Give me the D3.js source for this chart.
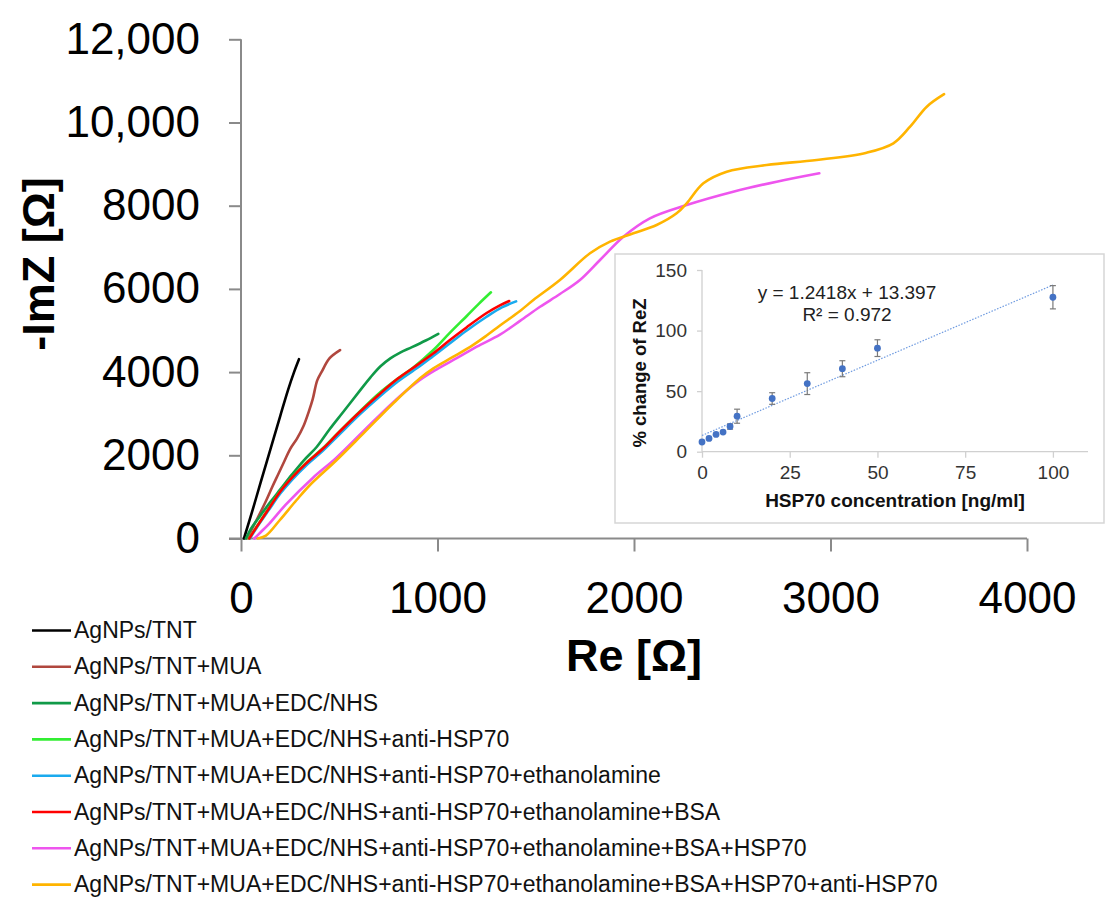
<!DOCTYPE html>
<html>
<head>
<meta charset="utf-8">
<script src="https://cdn.jsdelivr.net/npm/d3@7"></script>
<style>
  html, body { margin: 0; padding: 0; background: #fff; }
  svg { display: block; font-family: "Liberation Sans", Arial, sans-serif; }
</style>
</head>
<body>
<svg id="chart" width="1105" height="898"></svg>
<script>
// ---------- DATA ----------
const seriesNames = [
  "AgNPs/TNT",
  "AgNPs/TNT+MUA",
  "AgNPs/TNT+MUA+EDC/NHS",
  "AgNPs/TNT+MUA+EDC/NHS+anti-HSP70",
  "AgNPs/TNT+MUA+EDC/NHS+anti-HSP70+ethanolamine",
  "AgNPs/TNT+MUA+EDC/NHS+anti-HSP70+ethanolamine+BSA",
  "AgNPs/TNT+MUA+EDC/NHS+anti-HSP70+ethanolamine+BSA+HSP70",
  "AgNPs/TNT+MUA+EDC/NHS+anti-HSP70+ethanolamine+BSA+HSP70+anti-HSP70"
];
const seriesColors = ["#000000", "#b0473e", "#109a48", "#33ee33", "#1aaaee", "#ff0000", "#ee55ee", "#ffb400"];

// [Re, -ImZ] pairs (Ohm)
const sBlack = [[15,0],[60,700],[100,1350],[150,2150],[200,2950],[240,3580],[270,4000],[295,4310]];
const sBrown = [[30,0],[80,450],[127,900],[160,1250],[190,1550],[220,1850],[250,2150],[285,2400],[317,2690],[345,3050],[365,3350],[388,3800],[411,4010],[450,4330],[504,4530]];
const sDarkGreen = [[25,0],[50,230],[100,560],[150,880],[200,1180],[260,1540],[320,1880],[385,2200],[450,2620],[520,3040],[606,3560],[660,3880],[710,4140],[760,4330],[810,4470],[870,4600],[940,4760],[1004,4920]];
const sLightGreen = [[40,0],[80,290],[144,745],[200,1140],[263,1490],[330,1810],[419,2180],[500,2570],[606,3060],[700,3480],[800,3850],[877,4110],[979,4531],[1060,4930],[1149,5349],[1210,5640],[1272,5918]];
const sBlue = [[45,0],[80,260],[144,700],[200,1080],[263,1430],[330,1750],[419,2120],[500,2500],[606,2990],[700,3390],[800,3780],[900,4110],[979,4390],[1060,4680],[1149,5000],[1250,5330],[1330,5560],[1400,5700]];
const sRed = [[42,0],[80,280],[144,735],[200,1130],[263,1480],[330,1800],[419,2168],[500,2560],[606,3048],[700,3450],[800,3850],[900,4180],[979,4452],[1060,4760],[1149,5080],[1250,5420],[1320,5610],[1365,5709]];
const sMagenta = [[68,0],[100,150],[144,360],[229,820],[364,1450],[483,1930],[619,2560],[771,3260],[907,3800],[1000,4080],[1100,4340],[1200,4610],[1318,4900],[1420,5230],[1522,5570],[1623,5877],[1725,6214],[1827,6695],[1946,7255],[2081,7697],[2268,8017],[2505,8337],[2726,8577],[2943,8779]];
const sOrange = [[85,0],[127,70],[198,445],[283,925],[351,1286],[487,1887],[623,2528],[775,3250],[911,3851],[979,4091],[1081,4370],[1180,4650],[1250,4880],[1318,5120],[1420,5470],[1488,5733],[1623,6214],[1776,6856],[1878,7135],[1997,7336],[2115,7536],[2217,7817],[2268,8058],[2353,8538],[2472,8818],[2675,8978],[2930,9099],[3184,9275],[3320,9500],[3405,9899],[3490,10380],[3578,10680]];
const seriesData = [sBlack, sBrown, sDarkGreen, sLightGreen, sBlue, sRed, sMagenta, sOrange];

const xTicks = [0, 1000, 2000, 3000, 4000];
const yTicks = [0, 2000, 4000, 6000, 8000, 10000, 12000];

// Inset calibration data
const insetConc = [0, 2, 4, 6, 8, 10, 20, 30, 40, 50, 100];
const insetChange = [8.0, 11.0, 14.3, 16.2, 20.8, 29.3, 43.9, 56.2, 68.5, 85.5, 127.5];
const insetErr = [0, 0, 0, 0, 2.2, 5.8, 4.8, 9.0, 6.6, 6.9, 9.6];
const insetXTicks = [0, 25, 50, 75, 100];
const insetYTicks = [0, 50, 100, 150];
const fitSlope = 1.2418, fitIntercept = 13.397;

// ---------- DRAW ----------
const svg = d3.select("#chart");
const x = d3.scaleLinear().domain([0, 4000]).range([241, 1027]);
const y = d3.scaleLinear().domain([0, 12000]).range([538.5, 39.3]);
const axisColor = "#8a8a8a";

// Y axis
const gy = svg.append("g").attr("transform", "translate(241,0)")
  .call(d3.axisLeft(y).tickValues(yTicks).tickSize(12).tickPadding(29)
    .tickFormat(d => d >= 10000 ? d3.format(",")(d) : String(d)));
gy.select(".domain").attr("stroke", axisColor).attr("stroke-width", 2).attr("d", `M0,${y(12000)}V${y(0)}`);
gy.selectAll(".tick line").attr("stroke", axisColor).attr("stroke-width", 2);
gy.selectAll(".tick text").attr("font-size", 44).attr("fill", "#000");

// X axis
const gx = svg.append("g").attr("transform", `translate(0,${y(0)})`)
  .call(d3.axisBottom(x).tickValues(xTicks).tickSize(13).tickPadding(30).tickFormat(d => String(d)));
gx.select(".domain").attr("stroke", axisColor).attr("stroke-width", 2).attr("d", `M229,0H${x(4000)}`);
gx.selectAll(".tick line").attr("stroke", axisColor).attr("stroke-width", 2);
gx.selectAll(".tick text").attr("font-size", 44).attr("fill", "#000");

// Axis titles
svg.append("text").attr("transform", "translate(54,264) rotate(-90)")
  .attr("text-anchor", "middle").attr("font-size", 45).attr("font-weight", "bold").text("-ImZ [Ω]");
svg.append("text").attr("x", 634).attr("y", 671)
  .attr("text-anchor", "middle").attr("font-size", 45).attr("font-weight", "bold").text("Re [Ω]");

// Curves
const line = d3.line().x(d => x(d[0])).y(d => y(d[1])).curve(d3.curveCatmullRom.alpha(0.5));
const drawOrder = [0, 1, 2, 6, 7, 4, 3, 5];
drawOrder.forEach(i => {
  svg.append("path").attr("d", line(seriesData[i])).attr("fill", "none")
    .attr("stroke", seriesColors[i]).attr("stroke-width", 2.6).attr("stroke-linecap", "round");
});

// Inset
const inset = svg.append("g");
inset.append("rect").attr("x", 615).attr("y", 254).attr("width", 489).attr("height", 269)
  .attr("fill", "#fff").attr("stroke", "#d6d6d6").attr("stroke-width", 1.5);
const xi = d3.scaleLinear().domain([0, 110]).range([702, 1088]);
const yi = d3.scaleLinear().domain([0, 150]).range([451.7, 270]);
const insetAxisColor = "#d0d0d0";

const giy = inset.append("g").attr("transform", "translate(702,0)")
  .call(d3.axisLeft(yi).tickValues(insetYTicks).tickSize(5).tickPadding(10));
giy.select(".domain").attr("stroke", insetAxisColor).attr("stroke-width", 1.3).attr("d", `M0,${yi(150)}V${yi(0)}`);
giy.selectAll(".tick line").attr("stroke", insetAxisColor).attr("stroke-width", 1.3);
giy.selectAll(".tick text").attr("font-size", 19).attr("fill", "#333");

const gix = inset.append("g").attr("transform", `translate(0,${yi(0)})`)
  .call(d3.axisBottom(xi).tickValues(insetXTicks).tickSize(6).tickPadding(8));
gix.select(".domain").attr("stroke", insetAxisColor).attr("stroke-width", 1.3).attr("d", `M${xi(0)},0H${xi(110)}`);
gix.selectAll(".tick line").attr("stroke", insetAxisColor).attr("stroke-width", 1.3);
gix.selectAll(".tick text").attr("font-size", 19).attr("fill", "#333");

inset.append("text").attr("transform", "translate(646,373) rotate(-90)")
  .attr("text-anchor", "middle").attr("font-size", 18.5).attr("font-weight", "bold").attr("fill", "#111")
  .text("% change of ReZ");
inset.append("text").attr("x", 895).attr("y", 507)
  .attr("text-anchor", "middle").attr("font-size", 19).attr("font-weight", "bold").attr("fill", "#111")
  .text("HSP70 concentration [ng/ml]");

// trendline
inset.append("line")
  .attr("x1", xi(0)).attr("y1", yi(fitIntercept))
  .attr("x2", xi(100)).attr("y2", yi(fitSlope * 100 + fitIntercept))
  .attr("stroke", "#6f9be0").attr("stroke-width", 1.2).attr("stroke-dasharray", "1.5,1.5");

// error bars
const errG = inset.append("g");
insetConc.forEach((c, i) => {
  const e = insetErr[i];
  if (e <= 0) return;
  const cx = xi(c), y1 = yi(insetChange[i] + e), y2 = yi(insetChange[i] - e);
  errG.append("line").attr("x1", cx).attr("x2", cx).attr("y1", y1).attr("y2", y2).attr("stroke", "#7a7a7a").attr("stroke-width", 1.2);
  errG.append("line").attr("x1", cx - 3).attr("x2", cx + 3).attr("y1", y1).attr("y2", y1).attr("stroke", "#7a7a7a").attr("stroke-width", 1.2);
  errG.append("line").attr("x1", cx - 3).attr("x2", cx + 3).attr("y1", y2).attr("y2", y2).attr("stroke", "#7a7a7a").attr("stroke-width", 1.2);
});
inset.append("g").selectAll("circle").data(insetConc).join("circle")
  .attr("cx", d => xi(d)).attr("cy", (d, i) => yi(insetChange[i])).attr("r", 3.4).attr("fill", "#4472c4");

inset.append("text").attr("x", 847).attr("y", 299).attr("text-anchor", "middle")
  .attr("font-size", 19).attr("fill", "#222").text("y = 1.2418x + 13.397");
inset.append("text").attr("x", 847).attr("y", 321).attr("text-anchor", "middle")
  .attr("font-size", 19).attr("fill", "#222").text("R² = 0.972");

// Legend
const leg = svg.append("g");
seriesNames.forEach((n, i) => {
  const ly = 630.5 + i * 36.3;
  leg.append("line").attr("x1", 32).attr("x2", 71).attr("y1", ly).attr("y2", ly)
    .attr("stroke", seriesColors[i]).attr("stroke-width", 2.6);
  leg.append("text").attr("x", 74).attr("y", ly + 7.5).attr("font-size", 23).attr("fill", "#111").text(n);
});
</script>
</body>
</html>
